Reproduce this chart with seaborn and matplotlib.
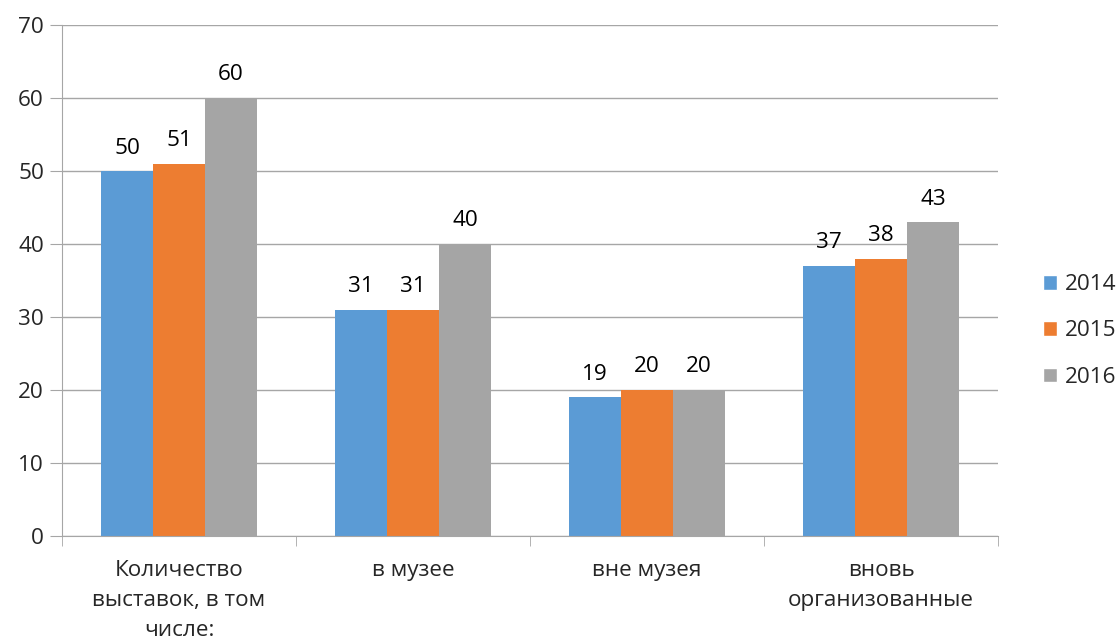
import matplotlib
matplotlib.use("Agg")
import matplotlib.pyplot as plt
import seaborn as sns
import pandas as pd
from matplotlib.patches import Patch

categories = ["Количество\nвыставок, в том\nчисле:", "в музее", "вне музея", "вновь\nорганизованные"]
years = ["2014", "2015", "2016"]
v2014 = [50, 31, 19, 37]
v2015 = [51, 31, 20, 38]
v2016 = [60, 40, 20, 43]
colors = ["#5B9BD5", "#ED7D31", "#A5A5A5"]

rows = []
for yr, vals in zip(years, [v2014, v2015, v2016]):
    for c, v in zip(categories, vals):
        rows.append({"cat": c, "year": yr, "val": v})
df = pd.DataFrame(rows)

sns.set_style("white")
plt.rcParams['font.family'] = ['Open Sans', 'DejaVu Sans']
FS = 16.2

fig = plt.figure(figsize=(11.2, 6.44), dpi=100)
ax = fig.add_axes([62/1120, 1-536/644, (998-62)/1120, (536-25)/644])

sns.barplot(data=df, x="cat", y="val", hue="year", palette=colors, width=0.667,
            ax=ax, legend=False, saturation=1, linewidth=0)

for cont in ax.containers:
    ax.bar_label(cont, padding=9, fontsize=FS, color="#000000")

ax.set_ylim(0, 70)
ax.set_xlim(-0.5, 3.5)
ax.set_yticks(range(0, 71, 10))
ax.yaxis.grid(True, color="#A6A6A6", linewidth=1)
ax.set_axisbelow(True)
ax.set_xlabel("")
ax.set_ylabel("")
for s in ["top", "right"]:
    ax.spines[s].set_visible(False)
ax.spines["left"].set_color("#A6A6A6")
ax.spines["bottom"].set_color("#A6A6A6")
ax.tick_params(axis="y", which="both", left=True, length=9, color="#A6A6A6", labelsize=FS, pad=4)
ax.set_xticks([0, 1, 2, 3])
ax.set_xticklabels(categories, fontsize=FS, linespacing=1.58)
ax.tick_params(axis="x", length=0, pad=17)
ax.set_xticks([0.5, 1.5, 2.5, 3.5, -0.5], minor=True)
ax.tick_params(axis="x", which="minor", length=7, color="#A6A6A6", bottom=True)

handles = [Patch(facecolor=c, label=y) for c, y in zip(colors, years)]
fig.legend(handles=handles, loc="center left", bbox_to_anchor=(1043/1120, 1-331/644),
           frameon=False, fontsize=FS, handlelength=0.6, handleheight=0.6,
           labelspacing=1.12, handletextpad=0.35, borderpad=0, borderaxespad=0)

fig.savefig("out.png", dpi=100)
